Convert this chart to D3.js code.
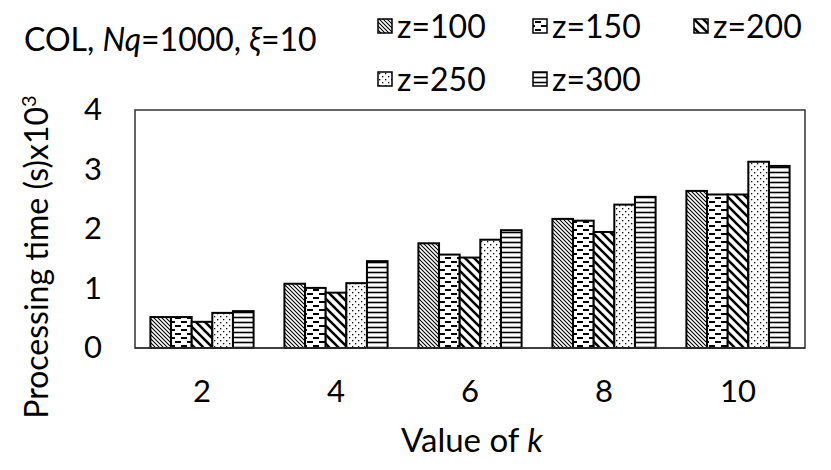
<!DOCTYPE html>
<html><head><meta charset="utf-8">
<script src="https://cdn.jsdelivr.net/npm/d3@7"></script>
<style>body{margin:0;background:#fff}svg{display:block}text{font-family:Lato,"Open Sans",sans-serif;fill:#000}</style>
</head><body><svg id="c" width="831" height="470"></svg>
<script>
const categories = ["2","4","6","8","10"];
const seriesNames = ["z=100","z=150","z=200","z=250","z=300"];
const z100 = [0.52,1.08,1.76,2.17,2.64];
const z150 = [0.52,1.01,1.57,2.14,2.58];
const z200 = [0.44,0.93,1.52,1.95,2.58];
const z250 = [0.59,1.09,1.82,2.41,3.13];
const z300 = [0.62,1.46,1.98,2.54,3.06];
const yTicks = [0,1,2,3,4];
const series = [z100,z150,z200,z250,z300];

const svg = d3.select("#c");
const m={l:135,r:805,t:110,b:348};
const FS = "31px";
const defs = svg.append("defs");
function pat(id,w,h,draw){const p=defs.append("pattern").attr("id",id).attr("patternUnits","userSpaceOnUse").attr("width",w).attr("height",h);p.append("rect").attr("width",w).attr("height",h).attr("fill","#fff");draw(p);}
pat("p0",4,4,p=>{p.append("path").attr("d","M-1,-1L5,5M-1,3L1,5M3,-1L5,1").attr("stroke","#000").attr("stroke-width",1.1);});
pat("p1",12,8,p=>{p.append("path").attr("d","M1,2H7M7,6H13M-5,6H1").attr("stroke","#000").attr("stroke-width",2);});
pat("p2",9,9,p=>{p.append("path").attr("d","M-2,-2L11,11M-2,7L2,11M7,-2L11,2").attr("stroke","#000").attr("stroke-width",2.6);});
pat("p3",6,6,p=>{p.append("rect").attr("x",1).attr("y",1).attr("width",1.3).attr("height",1.3).attr("fill","#000");p.append("rect").attr("x",4).attr("y",4).attr("width",1.3).attr("height",1.3).attr("fill","#000");});
pat("p4",5,5,p=>{p.append("path").attr("d","M0,2.5H5").attr("stroke","#000").attr("stroke-width",1.6);});

const x0 = d3.scaleBand().domain(categories).range([m.l,m.r]).paddingInner(0.23).paddingOuter(0.115);
const x1 = d3.scaleBand().domain(seriesNames).range([0,x0.bandwidth()]);
const y = d3.scaleLinear().domain([0,4]).range([m.b,m.t]);

svg.append("rect").attr("x",m.l).attr("y",m.t).attr("width",m.r-m.l).attr("height",m.b-m.t).attr("fill","none").attr("stroke","#333").attr("stroke-width",1.5);

categories.forEach((c,i)=>{
  series.forEach((s,j)=>{
    svg.append("rect").attr("x",x0(c)+x1(seriesNames[j])).attr("y",y(s[i])).attr("width",x1.bandwidth()).attr("height",y(0)-y(s[i])).attr("fill",`url(#p${j})`).attr("stroke","#000").attr("stroke-width",2);
  });
});
svg.append("line").attr("x1",m.l).attr("x2",m.r).attr("y1",m.b).attr("y2",m.b).attr("stroke","#333").attr("stroke-width",1.5);

const ya = svg.append("g").attr("transform",`translate(${m.l},0)`).call(d3.axisLeft(y).tickValues(yTicks).tickSize(0).tickPadding(33).tickFormat(d3.format("d")));
ya.select(".domain").remove();
ya.selectAll("text").style("font-size",FS).style("font-family","Lato");
const xa = svg.append("g").attr("transform",`translate(0,${m.b})`).call(d3.axisBottom(x0).tickSize(0).tickPadding(32));
xa.select(".domain").remove();
xa.selectAll("text").style("font-size",FS).style("font-family","Lato");

const yt = svg.append("text").attr("transform","translate(48,257) rotate(-90)").attr("text-anchor","middle").style("font-size","32px");
yt.append("tspan").text("Processing time (s)x10");
yt.append("tspan").text("3").attr("dy",-12).style("font-size","20px");
const xt = svg.append("text").attr("x",472).attr("y",452).attr("text-anchor","middle").style("font-size","33px");
xt.append("tspan").text("Value of ");
xt.append("tspan").text("k").style("font-style","italic");

const tt = svg.append("text").attr("x",24).attr("y",51).style("font-size","32px");
tt.append("tspan").text("COL, ");
tt.append("tspan").text("Nq").style("font-style","italic");
tt.append("tspan").text("=1000, ");
tt.append("tspan").text("ξ").style("font-style","italic");
tt.append("tspan").text("=10");

const legPos = [[378,19],[533,19],[694,19],[378,72],[533,72]];
seriesNames.forEach((n,j)=>{
  const [lx,ly]=legPos[j];
  svg.append("rect").attr("x",lx).attr("y",ly).attr("width",14).attr("height",14).attr("fill",`url(#p${j})`).attr("stroke","#000").attr("stroke-width",1.5);
  svg.append("text").attr("x",lx+19).attr("y",ly+7).attr("dy","0.36em").style("font-size","32px").text(n);
});
</script></body></html>
